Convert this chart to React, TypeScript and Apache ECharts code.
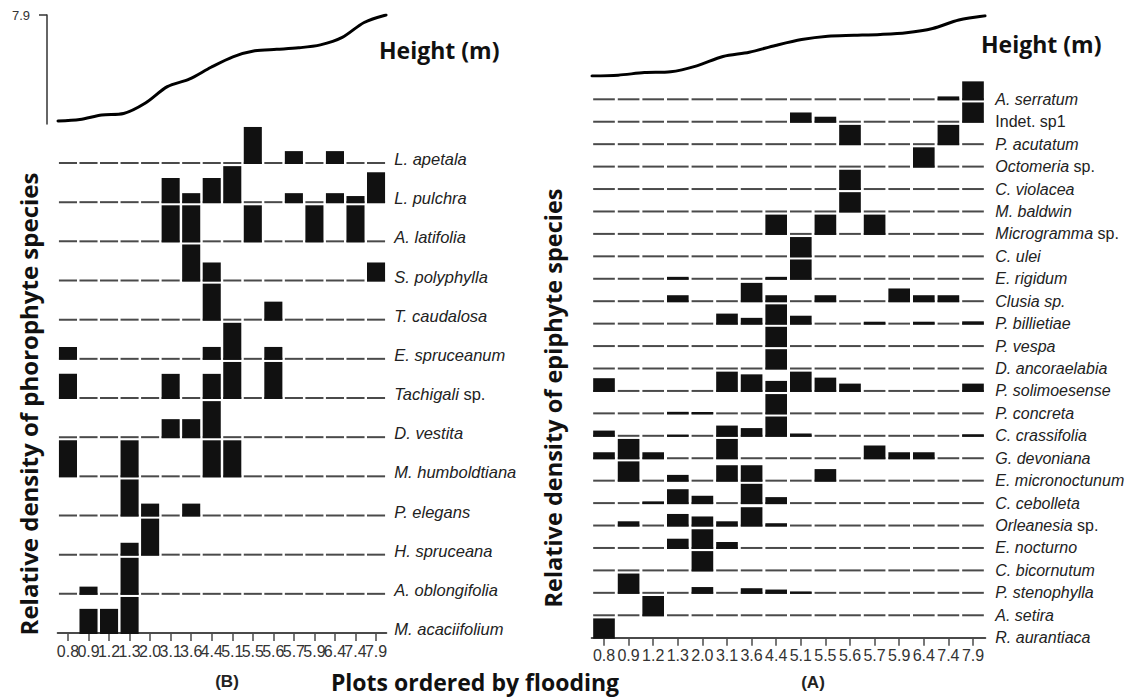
import React, { useEffect, useRef } from "react";
import * as echarts from "echarts";

// Plots ordered by flooding; every plot is labelled by its height (m)
const plotLabels = ["0.8", "0.9", "1.2", "1.3", "2.0", "3.1", "3.6", "4.4", "5.1", "5.5", "5.6", "5.7", "5.9", "6.4", "7.4", "7.9"];
const plotHeights = [0.8, 0.9, 1.2, 1.3, 2.0, 3.1, 3.6, 4.4, 5.1, 5.5, 5.6, 5.7, 5.9, 6.4, 7.4, 7.9];

// (B) phorophytes, top row first
const phorophyteSpecies = [
  "L. apetala", "L. pulchra", "A. latifolia", "S. polyphylla", "T. caudalosa", "E. spruceanum",
  "Tachigali sp.", "D. vestita", "M. humboldtiana", "P. elegans", "H. spruceana", "A. oblongifolia", "M. acaciifolium",
];
// relative density per plot (columns follow plotLabels)
const phorophyteDensity = [
  [0, 0, 0, 0, 0, 0, 0, 0, 0, 1, 0, 0.33, 0, 0.33, 0, 0],
  [0, 0, 0, 0, 0, 0.67, 0.25, 0.67, 1, 0, 0, 0.25, 0, 0.25, 0.17, 0.83],
  [0, 0, 0, 0, 0, 1, 1, 0, 0, 1, 0, 0, 1, 0, 1, 0],
  [0, 0, 0, 0, 0, 0, 1, 0.5, 0, 0, 0, 0, 0, 0, 0, 0.5],
  [0, 0, 0, 0, 0, 0, 0, 1, 0, 0, 0.5, 0, 0, 0, 0, 0],
  [0.33, 0, 0, 0, 0, 0, 0, 0.33, 1, 0, 0.33, 0, 0, 0, 0, 0],
  [0.67, 0, 0, 0, 0, 0.67, 0, 0.67, 1, 0, 1, 0, 0, 0, 0, 0],
  [0, 0, 0, 0, 0, 0.5, 0.5, 1, 0, 0, 0, 0, 0, 0, 0, 0],
  [1, 0, 0, 1, 0, 0, 0, 1, 1, 0, 0, 0, 0, 0, 0, 0],
  [0, 0, 0, 1, 0.33, 0, 0.33, 0, 0, 0, 0, 0, 0, 0, 0, 0],
  [0, 0, 0, 0.33, 1, 0, 0, 0, 0, 0, 0, 0, 0, 0, 0, 0],
  [0, 0.2, 0, 1, 0, 0, 0, 0, 0, 0, 0, 0, 0, 0, 0, 0],
  [0, 0.67, 0.67, 1, 0, 0, 0, 0, 0, 0, 0, 0, 0, 0, 0, 0],
];

// (A) epiphytes, top row first
const epiphyteSpecies = [
  "A. serratum", "Indet. sp1", "P. acutatum", "Octomeria sp.", "C. violacea", "M. baldwin",
  "Microgramma sp.", "C. ulei", "E. rigidum", "Clusia sp.", "P. billietiae", "P. vespa",
  "D. ancoraelabia", "P. solimoesense", "P. concreta", "C. crassifolia", "G. devoniana",
  "E. micronoctunum", "C. cebolleta", "Orleanesia sp.", "E. nocturno", "C. bicornutum",
  "P. stenophylla", "A. setira", "R. aurantiaca",
];
const epiphyteDensity = [
  [0, 0, 0, 0, 0, 0, 0, 0, 0, 0, 0, 0, 0, 0, 0.15, 0.93],
  [0, 0, 0, 0, 0, 0, 0, 0, 0.48, 0.26, 0, 0, 0, 0, 0, 1],
  [0, 0, 0, 0, 0, 0, 0, 0, 0, 0, 1, 0, 0, 0, 1, 0],
  [0, 0, 0, 0, 0, 0, 0, 0, 0, 0, 0, 0, 0, 1, 0, 0],
  [0, 0, 0, 0, 0, 0, 0, 0, 0, 0, 1, 0, 0, 0, 0, 0],
  [0, 0, 0, 0, 0, 0, 0, 0, 0, 0, 1, 0, 0, 0, 0, 0],
  [0, 0, 0, 0, 0, 0, 0, 1, 0, 1, 0, 1, 0, 0, 0, 0],
  [0, 0, 0, 0, 0, 0, 0, 0, 1, 0, 0, 0, 0, 0, 0, 0],
  [0, 0, 0, 0.1, 0, 0, 0, 0.1, 1, 0, 0, 0, 0, 0, 0, 0],
  [0, 0, 0, 0.31, 0, 0, 0.95, 0.31, 0, 0.31, 0, 0, 0.66, 0.31, 0.31, 0],
  [0, 0, 0, 0, 0, 0.52, 0.3, 1, 0.41, 0, 0, 0.1, 0, 0.1, 0, 0.12],
  [0, 0, 0, 0, 0, 0, 0, 1, 0, 0, 0, 0, 0, 0, 0, 0],
  [0, 0, 0, 0, 0, 0, 0, 1, 0, 0, 0, 0, 0, 0, 0, 0],
  [0.66, 0, 0, 0, 0, 1, 0.86, 0.52, 1, 0.69, 0.38, 0, 0, 0, 0, 0.38],
  [0, 0, 0, 0.08, 0.07, 0, 0, 1, 0, 0, 0, 0, 0, 0, 0, 0],
  [0.27, 0, 0, 0.06, 0, 0.53, 0.4, 1, 0.12, 0, 0, 0, 0, 0, 0, 0.08],
  [0.31, 1, 0.31, 0, 0, 1, 0, 0, 0, 0, 0, 0.66, 0.31, 0.31, 0, 0],
  [0, 1, 0, 0.3, 0, 0.8, 0.8, 0, 0, 0.6, 0, 0, 0, 0, 0, 0],
  [0, 0, 0.09, 0.72, 0.38, 0, 1, 0.31, 0, 0, 0, 0, 0, 0, 0, 0],
  [0, 0.22, 0, 0.6, 0.47, 0.22, 0.95, 0.12, 0, 0, 0, 0, 0, 0, 0, 0],
  [0, 0, 0, 0.48, 0.97, 0.31, 0, 0, 0, 0, 0, 0, 0, 0, 0, 0],
  [0, 0, 0, 0, 1, 0, 0, 0, 0, 0, 0, 0, 0, 0, 0, 0],
  [0, 1, 0, 0, 0.3, 0, 0.24, 0.17, 0.07, 0, 0, 0, 0, 0, 0, 0],
  [0, 0, 1, 0, 0, 0, 0, 0, 0, 0, 0, 0, 0, 0, 0, 0],
  [1, 0, 0, 0, 0, 0, 0, 0, 0, 0, 0, 0, 0, 0, 0, 0],
];

const INK = "#111";
const RULE = "#4a4a4a";
const TEXT = "#222";
const SANS = "'Liberation Sans', Arial, sans-serif";
const TITLE_FONT = "'Open Sans', 'Noto Sans', sans-serif";

// names whose trailing "sp." (or the whole name) is set upright
const uprightSuffix = new Set(["Tachigali sp.", "Octomeria sp.", "Microgramma sp.", "Orleanesia sp."]);
const uprightName = new Set(["Indet. sp1"]);

function speciesLabel(name: string) {
  if (uprightName.has(name)) return `{n|${name}}`;
  if (uprightSuffix.has(name)) {
    const genus = name.slice(0, name.lastIndexOf(" "));
    return `{i|${genus}} {n|sp.}`;
  }
  return `{i|${name}}`;
}

type Box = { left: number; top: number; width: number; height: number };
type Panel = {
  names: string[];
  density: number[][];
  lineBox: Box;
  kiteBox: Box;
  lineMin: number;
  lineMax: number;
  barScale: number; // share of the row spacing filled by a density of 1
  heightAxis: boolean;
  tickFont: number;
  tickMargin: number;
  nameFont: number;
  nameMargin: number;
  nameLift: number;
};

function buildOption(panels: Panel[]) {
  const grid: any[] = [];
  const xAxis: any[] = [];
  const yAxis: any[] = [];
  const series: any[] = [];

  panels.forEach((p) => {
    const n = p.names.length;
    const lineIdx = grid.length;
    grid.push({ ...p.lineBox, outerBoundsMode: "none" });
    const kiteIdx = grid.length;
    grid.push({ ...p.kiteBox, outerBoundsMode: "none" });

    xAxis.push({
      type: "category",
      gridIndex: lineIdx,
      data: plotLabels,
      boundaryGap: false,
      show: false,
    });
    yAxis.push({
      type: "value",
      gridIndex: lineIdx,
      min: p.lineMin,
      max: p.lineMax,
      show: p.heightAxis,
      position: "left",
      offset: 11,
      splitLine: { show: false },
      axisLine: { show: true, lineStyle: { color: "#333", width: 1.5 } },
      axisTick: { show: true, customValues: [p.lineMax], length: 8, lineStyle: { color: "#333", width: 1.5 } },
      axisLabel: {
        customValues: [p.lineMax],
        formatter: (v: number) => v.toFixed(1),
        fontFamily: SANS,
        fontSize: 13,
        color: "#333",
        margin: 17,
      },
    });

    xAxis.push({
      type: "category",
      gridIndex: kiteIdx,
      data: plotLabels,
      boundaryGap: true,
      axisLine: { show: true, lineStyle: { color: RULE, width: 2 } },
      axisTick: { show: true, alignWithLabel: true, length: 8, lineStyle: { color: RULE, width: 1.5 } },
      axisLabel: {
        interval: 0,
        fontFamily: SANS,
        fontSize: p.tickFont,
        color: "#333",
        margin: p.tickMargin,
      },
      splitLine: { show: false },
    });
    yAxis.push({
      type: "value",
      gridIndex: kiteIdx,
      min: 0,
      max: n - 1,
      interval: 1,
      position: "right",
      axisLine: { show: false },
      axisTick: { show: false },
      splitLine: { show: false },
      axisLabel: {
        margin: p.nameMargin,
        padding: [0, 0, p.nameLift * 2, 0],
        formatter: (v: number) => speciesLabel(p.names[n - 1 - Math.round(v)] ?? ""),
        fontFamily: SANS,
        fontSize: p.nameFont,
        color: TEXT,
        rich: {
          i: { fontFamily: SANS, fontSize: p.nameFont, fontStyle: "italic", color: TEXT },
          n: { fontFamily: SANS, fontSize: p.nameFont, fontStyle: "normal", color: TEXT },
        },
      },
    });

    series.push({
      type: "line",
      xAxisIndex: lineIdx,
      yAxisIndex: lineIdx,
      data: plotHeights,
      showSymbol: false,
      smooth: 0.3,
      lineStyle: { color: "#000", width: 3, cap: "round", join: "round" },
      silent: true,
    });

    // dashed baseline of every row above the axis
    const dashes: number[][] = [];
    p.names.forEach((_, r) => {
      if (r === n - 1) return;
      plotLabels.forEach((__, c) => dashes.push([c, n - 1 - r]));
    });
    series.push({
      type: "custom",
      xAxisIndex: kiteIdx,
      yAxisIndex: kiteIdx,
      data: dashes,
      encode: { x: 0, y: 1 },
      silent: true,
      renderItem: (_params: any, api: any) => {
        const pt = api.coord([api.value(0), api.value(1)]);
        const w = api.size([1, 0])[0] * 0.88;
        return {
          type: "rect",
          shape: { x: pt[0] - w / 2, y: pt[1] - 1, width: w, height: 2 },
          style: { fill: RULE },
        };
      },
    });

    // density blocks standing on each row's baseline
    const blocks: number[][] = [];
    p.density.forEach((row, r) => {
      row.forEach((v, c) => {
        if (v > 0) blocks.push([c, n - 1 - r, v]);
      });
    });
    series.push({
      type: "custom",
      xAxisIndex: kiteIdx,
      yAxisIndex: kiteIdx,
      data: blocks,
      encode: { x: 0, y: 1 },
      silent: true,
      renderItem: (_params: any, api: any) => {
        const c = api.value(0);
        const base = api.value(1);
        const v = api.value(2);
        const p0 = api.coord([c, base]);
        const p1 = api.coord([c, base + v * p.barScale]);
        const w = api.size([1, 0])[0] * 0.88;
        return {
          type: "rect",
          shape: { x: p0[0] - w / 2, y: p1[1], width: w, height: p0[1] - p1[1] + 1 },
          style: { fill: INK },
        };
      },
    });
  });

  const titleStyle = { fontFamily: TITLE_FONT, fontWeight: "bold", fill: "#111" };

  return {
    animation: false,
    backgroundColor: "#fff",
    grid,
    xAxis,
    yAxis,
    series,
    graphic: [
      { type: "text", left: 379, top: 38, style: { ...titleStyle, text: "Height (m)", fontSize: 23 } },
      { type: "text", left: 981, top: 32, style: { ...titleStyle, text: "Height (m)", fontSize: 23 } },
      {
        type: "text",
        x: 28,
        y: 404,
        rotation: Math.PI / 2,
        style: { ...titleStyle, text: "Relative density of phorophyte species", fontSize: 24, align: "center", verticalAlign: "middle" },
      },
      {
        type: "text",
        x: 553,
        y: 398,
        rotation: Math.PI / 2,
        style: { ...titleStyle, text: "Relative density of epiphyte species", fontSize: 23.5, align: "center", verticalAlign: "middle" },
      },
      {
        type: "text",
        x: 475,
        y: 682,
        style: { ...titleStyle, text: "Plots ordered by flooding", fontSize: 23, align: "center", verticalAlign: "middle" },
      },
      {
        type: "text",
        x: 227,
        y: 681,
        style: { fontFamily: SANS, fontWeight: "bold", fill: "#222", text: "(B)", fontSize: 17, align: "center", verticalAlign: "middle" },
      },
      {
        type: "text",
        x: 813,
        y: 682,
        style: { fontFamily: SANS, fontWeight: "bold", fill: "#222", text: "(A)", fontSize: 17, align: "center", verticalAlign: "middle" },
      },
    ],
  };
}

const panels: Panel[] = [
  {
    names: phorophyteSpecies,
    density: phorophyteDensity,
    lineBox: { left: 58, top: 15, width: 328, height: 109 },
    kiteBox: { left: 57.7, top: 163, width: 328.6, height: 470 },
    lineMin: 0.6,
    lineMax: 7.9,
    barScale: 0.92,
    heightAxis: true,
    tickFont: 16,
    tickMargin: 10,
    nameFont: 16.5,
    nameMargin: 8,
    nameLift: 4,
  },
  {
    names: epiphyteSpecies,
    density: epiphyteDensity,
    lineBox: { left: 592, top: 15.8, width: 393, height: 60.2 },
    kiteBox: { left: 591.7, top: 99.3, width: 393.6, height: 538.4 },
    lineMin: 0.8,
    lineMax: 7.9,
    barScale: 0.86,
    heightAxis: false,
    tickFont: 16,
    tickMargin: 10,
    nameFont: 16,
    nameMargin: 10,
    nameLift: 0,
  },
];

export default function App() {
  const ref = useRef<HTMLDivElement>(null);
  useEffect(() => {
    if (!ref.current) return;
    const chart = echarts.init(ref.current, null, { renderer: "svg" });
    chart.setOption(buildOption(panels) as any);
    return () => chart.dispose();
  }, []);
  return <div ref={ref} style={{ position: "absolute", left: 0, top: 0, width: 1139, height: 699 }} />;
}
